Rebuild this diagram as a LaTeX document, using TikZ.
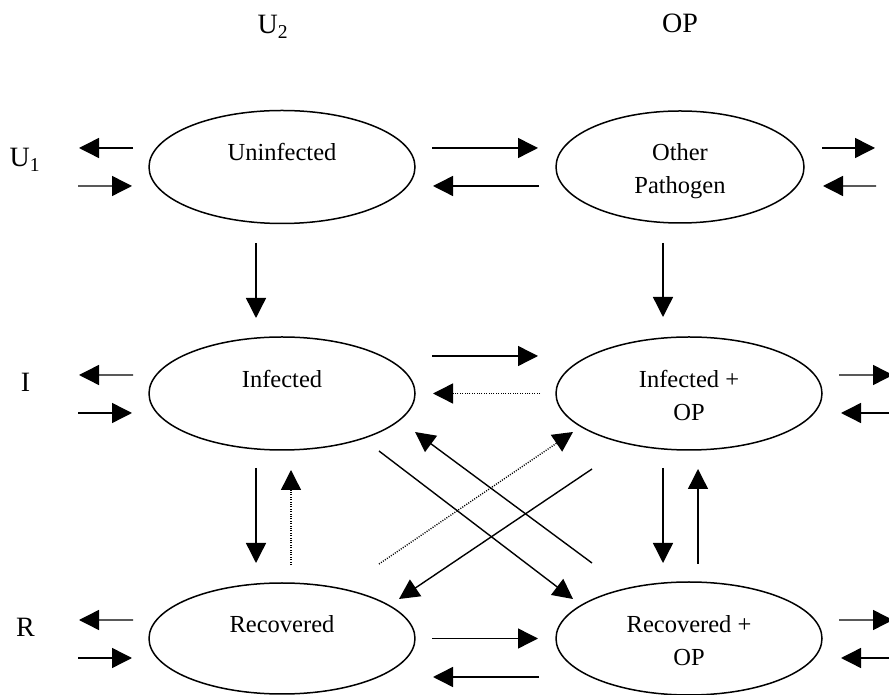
\documentclass[tikz,border=0pt]{standalone}
\usepackage{fontspec}
\setmainfont{Liberation Serif}
\usetikzlibrary{arrows.meta,shapes.geometric}
\newcommand\statestrut{\rule[-6bp]{0pt}{33bp}}
\begin{document}
\begin{tikzpicture}[line join=bevel,
  state/.style={draw,ellipse,line width=1.5bp,inner sep=0pt,outer sep=0pt,
    minimum width=266bp,minimum height=113bp,align=center,
    font=\fontsize{24.5bp}{33bp}\selectfont},
  flow/.style={line width=1.4bp,-{Triangle[length=20bp,width=20bp]}},
  weak/.style={flow,dash pattern=on 1bp off 1.4bp},
  axis/.style={anchor=base,font=\fontsize{28bp}{33bp}\selectfont}]
  \useasboundingbox (0bp,0bp) rectangle (889bp,695bp);
  \clip (0bp,0bp) rectangle (889bp,695bp);
%%
  % Node: Uninfected
  \node[state] (unf) at (282bp,528bp) {\statestrut Uninfected\\\statestrut};
  % Node: Other Pathogen
  \node[state,minimum width=248bp,minimum height=112bp] (oth) at (680bp,528bp) {\statestrut Other\\Pathogen\statestrut};
  % Node: Infected
  \node[state] (inf) at (282bp,301.5bp) {\statestrut Infected\\\statestrut};
  % Node: Infected + OP
  \node[state] (infop) at (689bp,301.5bp) {\statestrut Infected +\\OP\statestrut};
  % Node: Recovered
  \node[state,minimum height=111bp] (rec) at (282bp,56.5bp) {\statestrut Recovered\\\statestrut};
  % Node: Recovered + OP
  \node[state] (recop) at (689bp,56.5bp) {\statestrut Recovered +\\OP\statestrut};
  % Labels
  \node[axis] (u2lab) at (273bp,661bp) {U\textsubscript{2}};
  \node[axis] (oplab) at (680bp,662bp) {OP};
  \node[axis] (u1lab) at (25bp,528bp) {U\textsubscript{1}};
  \node[axis] (ilab) at (25.5bp,303bp) {I};
  \node[axis] (rlab) at (25.5bp,58bp) {R};
  % Free ends
  \coordinate (unfwo) at (79bp,547bp);
  \coordinate (unfwi) at (78bp,509bp);
  \coordinate (otheo) at (875bp,547bp);
  \coordinate (othei) at (876bp,509bp);
  \coordinate (infwo) at (79bp,320bp);
  \coordinate (infwi) at (78bp,282bp);
  \coordinate (infopeo) at (893bp,320bp);
  \coordinate (infopei) at (894bp,282bp);
  \coordinate (recwo) at (79bp,75bp);
  \coordinate (recwi) at (78bp,37bp);
  \coordinate (recopeo) at (893bp,75bp);
  \coordinate (recopei) at (894bp,37bp);
%
  % Edge: Uninfected <-> outside
  \draw[flow] ([shift={(-16bp,19bp)}]unf.west) -- (unfwo);
  \draw[flow] (unfwi) -- ([shift={(-17bp,-19bp)}]unf.west);
  % Edge: Uninfected <-> Other Pathogen
  \draw[flow] ([shift={(17bp,19bp)}]unf.east) -- ([shift={(-18bp,19bp)}]oth.west);
  \draw[flow] ([shift={(-17bp,-19bp)}]oth.west) -- ([shift={(18bp,-19bp)}]unf.east);
  % Edge: Other Pathogen <-> outside
  \draw[flow] ([shift={(18bp,19bp)}]oth.east) -- (otheo);
  \draw[flow] (othei) -- ([shift={(19bp,-19bp)}]oth.east);
  % Edge: Uninfected -> Infected
  \draw[flow] ([shift={(-26bp,-20bp)}]unf.south) -- ([shift={(-26bp,19bp)}]inf.north);
  % Edge: Other Pathogen -> Infected + OP
  \draw[flow] ([shift={(-17bp,-20bp)}]oth.south) -- ([shift={(-26bp,20bp)}]infop.north);
  % Edge: Infected <-> outside
  \draw[flow] ([shift={(-16bp,18.5bp)}]inf.west) -- (infwo);
  \draw[flow] (infwi) -- ([shift={(-17bp,-19.5bp)}]inf.west);
  % Edge: Infected <-> Infected + OP
  \draw[flow] ([shift={(17bp,37.5bp)}]inf.east) -- ([shift={(-18bp,37.5bp)}]infop.west);
  \draw[weak] ([shift={(-16bp,0bp)}]infop.west) -- ([shift={(18bp,0bp)}]inf.east);
  % Edge: Infected + OP <-> outside
  \draw[flow] ([shift={(17bp,18.5bp)}]infop.east) -- (infopeo);
  \draw[flow] (infopei) -- ([shift={(19bp,-19.5bp)}]infop.east);
  % Edge: Infected <-> Recovered
  \draw[flow] ([shift={(-26bp,-18bp)}]inf.south) -- ([shift={(-26bp,20bp)}]rec.north);
  \draw[weak] ([shift={(9bp,18bp)}]rec.north) -- ([shift={(9bp,-20bp)}]inf.south);
  % Edge: Infected + OP <-> Recovered + OP
  \draw[flow] ([shift={(-26bp,-18bp)}]infop.south) -- ([shift={(-26bp,19bp)}]recop.north);
  \draw[flow] ([shift={(9bp,18bp)}]recop.north) -- ([shift={(9bp,-19bp)}]infop.south);
  % Edge: crossings
  \draw[flow] ([shift={(97bp,-57.5bp)}]inf.center) -- ([shift={(-116bp,39.5bp)}]recop.center);
  \draw[flow] ([shift={(-97bp,75.5bp)}]recop.center) -- ([shift={(133bp,-38.5bp)}]inf.center);
  \draw[weak] ([shift={(97bp,74.5bp)}]rec.center) -- ([shift={(-116bp,-38.5bp)}]infop.center);
  \draw[flow] ([shift={(-97bp,-75.5bp)}]infop.center) -- ([shift={(117bp,39.5bp)}]rec.center);
  % Edge: Recovered <-> outside
  \draw[flow] ([shift={(-16bp,18.5bp)}]rec.west) -- (recwo);
  \draw[flow] (recwi) -- ([shift={(-17bp,-19.5bp)}]rec.west);
  % Edge: Recovered <-> Recovered + OP
  \draw[flow] ([shift={(17bp,0bp)}]rec.east) -- ([shift={(-18bp,0bp)}]recop.west);
  \draw[flow] ([shift={(-17bp,-38.5bp)}]recop.west) -- ([shift={(18bp,-38.5bp)}]rec.east);
  % Edge: Recovered + OP <-> outside
  \draw[flow] ([shift={(17bp,18.5bp)}]recop.east) -- (recopeo);
  \draw[flow] (recopei) -- ([shift={(19bp,-19.5bp)}]recop.east);
%
\end{tikzpicture}
\end{document}
